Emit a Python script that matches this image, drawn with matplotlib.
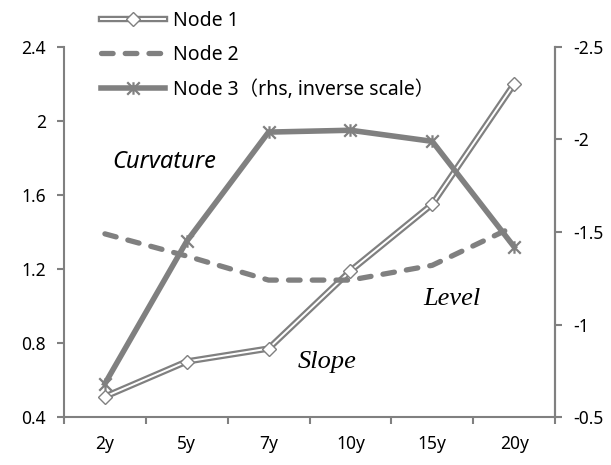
import matplotlib.pyplot as plt
import matplotlib.patheffects as pe
from matplotlib.path import Path

plt.rcParams["font.family"] = ["Noto Sans", "Noto Sans CJK JP"]

tenors = ["2y", "5y", "7y", "10y", "15y", "20y"]
node1 = [0.51, 0.70, 0.77, 1.19, 1.55, 2.20]
node2 = [1.39, 1.27, 1.14, 1.14, 1.22, 1.43]
node3 = [-0.68, -1.45, -2.04, -2.05, -1.99, -1.42]

gray = "#808080"
x = list(range(len(tenors)))

# excel-like star marker: x with a vertical bar
star = Path(
    [(-1, -1), (1, 1), (-1, 1), (1, -1), (0, -1), (0, 1)],
    [Path.MOVETO, Path.LINETO, Path.MOVETO, Path.LINETO, Path.MOVETO, Path.LINETO],
)

fig = plt.figure(figsize=(6.11, 4.65), dpi=100)
ax = fig.add_axes([64 / 611, 48 / 465, 491 / 611, 370 / 465])
ax2 = ax.twinx()

# Node 1: double line (gray outline, white core)
l1, = ax.plot(x, node1, color="white", lw=1.4,
              path_effects=[pe.Stroke(linewidth=4.6, foreground=gray), pe.Normal()])
m1, = ax.plot(x, node1, ls="none", marker="D", markersize=7,
              markerfacecolor="white", markeredgecolor=gray, markeredgewidth=1)

l2, = ax.plot(x, node2, color=gray, lw=3.8, dashes=(2.2, 2.3),
              dash_capstyle="round", solid_capstyle="round")

l3, = ax2.plot(x, node3, color=gray, lw=4, marker=star, markersize=9,
               markeredgewidth=1.6, markeredgecolor=gray)

ax.set_xlim(-0.5, 5.5)
ax.set_ylim(0.4, 2.4)
ax.set_yticks([0.4, 0.8, 1.2, 1.6, 2.0, 2.4])
ax.set_yticklabels(["0.4", "0.8", "1.2", "1.6", "2", "2.4"])
ax2.set_ylim(-0.5, -2.5)
ax2.set_yticks([-0.5, -1, -1.5, -2, -2.5])
ax2.set_yticklabels(["-0.5", "-1", "-1.5", "-2", "-2.5"])

ax.set_xticks([i - 0.5 for i in range(len(tenors) + 1)])
ax.set_xticklabels([])
ax.set_xticks(x, minor=True)
ax.set_xticklabels(tenors, minor=True)
ax.tick_params(axis="x", which="minor", length=0, pad=13, labelsize=12.5)
ax.tick_params(axis="x", which="major", length=5, width=1.5, color=gray)

for a in (ax, ax2):
    a.spines["top"].set_visible(False)
    for s in ("left", "right", "bottom"):
        a.spines[s].set_color(gray)
        a.spines[s].set_linewidth(1.5)
    a.tick_params(axis="y", length=5, width=1.5, color=gray, labelsize=12.5, pad=8)
ax2.spines["left"].set_visible(False)
ax2.spines["bottom"].set_visible(False)

ax.text(0.205, 0.69, "Curvature", transform=ax.transAxes, fontsize=17,
        style="italic", ha="center", va="center")
ax.text(0.535, 0.15, "Slope", transform=ax.transAxes, fontsize=19,
        style="italic", family="Liberation Serif", ha="center", va="center")
ax.text(0.79, 0.32, "Level", transform=ax.transAxes, fontsize=19,
        style="italic", family="Liberation Serif", ha="center", va="center")

fig.legend([(l1, m1), l2, l3],
           ["Node 1", "Node 2", "Node 3（rhs, inverse scale）"],
           loc="upper left", bbox_to_anchor=(90 / 611, 1.0), frameon=False,
           fontsize=14, handlelength=3.3, labelspacing=0.75, handletextpad=0.4,
           borderaxespad=0.15)

fig.savefig("out.png", dpi=100)
